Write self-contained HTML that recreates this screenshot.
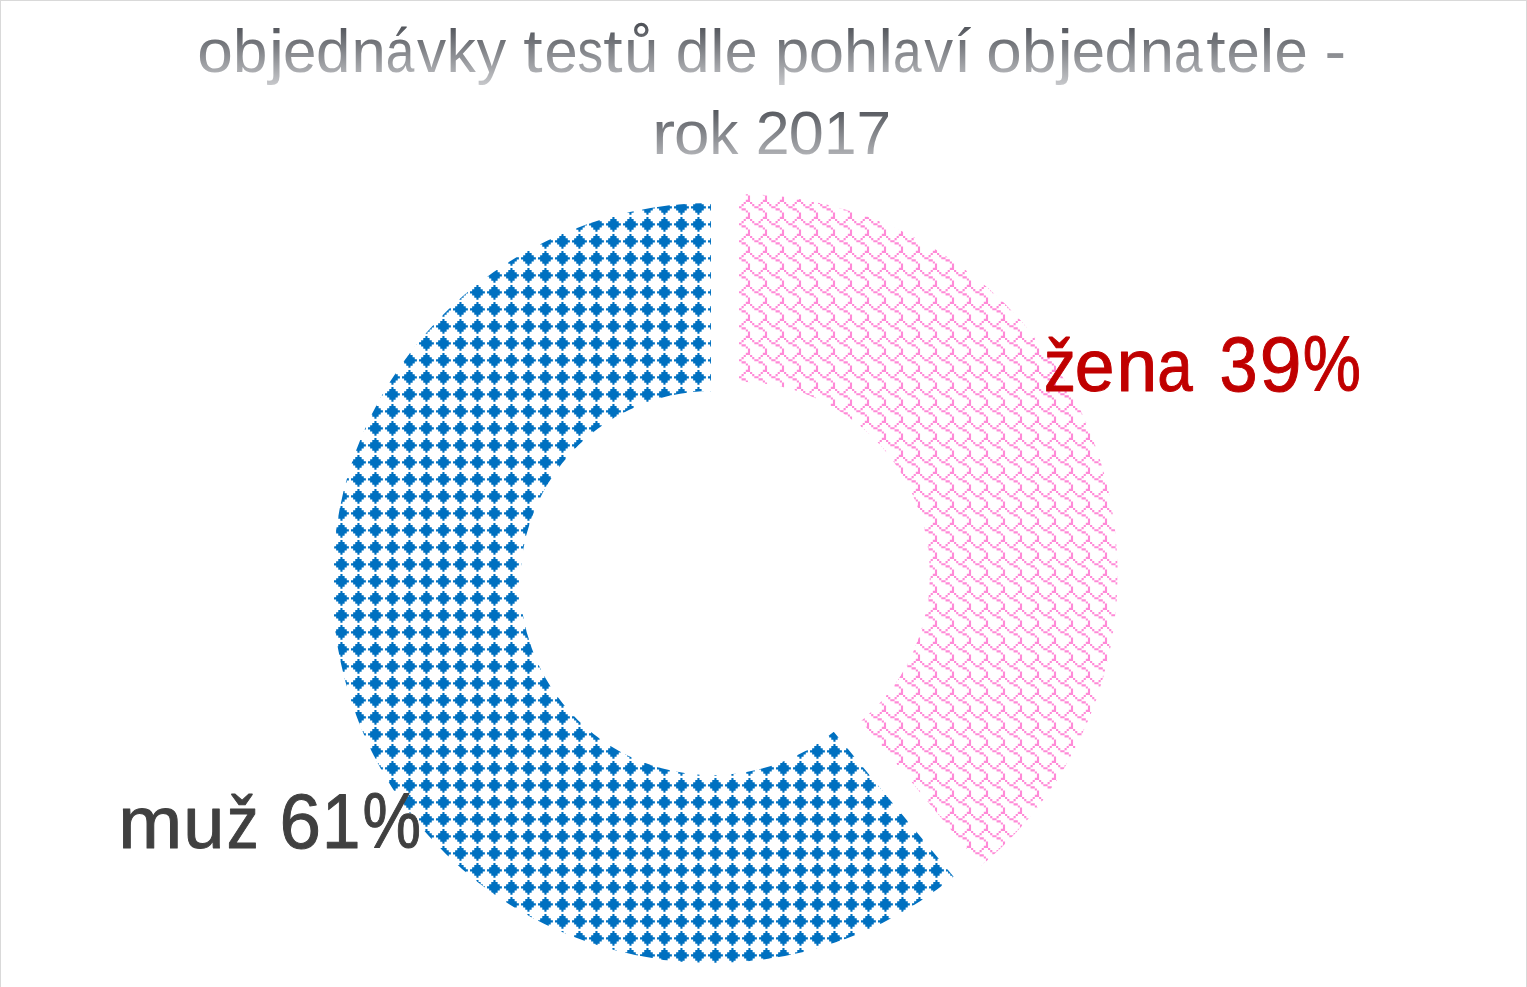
<!DOCTYPE html>
<html lang="cs">
<head>
<meta charset="utf-8">
<title>objednávky testů dle pohlaví objednatele - rok 2017</title>
<style>
html,body{margin:0;padding:0;background:#fff;}
body{width:1527px;height:987px;overflow:hidden;}
svg{display:block;}
text{font-family:"Liberation Sans",sans-serif;}
</style>
</head>
<body>
<svg width="1527" height="987" viewBox="0 0 1527 987">
<defs>
<pattern id="diamond" x="0" y="0" width="17" height="17" patternUnits="userSpaceOnUse">
<g fill="#0070C0"><path transform="translate(-5.987 -4.037)" d="M6.375 0L8.5 0L8.5 2.125L10.625 2.125L10.625 4.25L12.75 4.25L12.75 6.375L14.875 6.375L14.875 8.5L12.75 8.5L12.75 10.625L10.625 10.625L10.625 12.75L8.5 12.75L8.5 14.875L6.375 14.875L6.375 12.75L4.25 12.75L4.25 10.625L2.125 10.625L2.125 8.5L0 8.5L0 6.375L2.125 6.375L2.125 4.25L4.25 4.25L4.25 2.125L6.375 2.125Z"/><path transform="translate(11.013 -4.037)" d="M6.375 0L8.5 0L8.5 2.125L10.625 2.125L10.625 4.25L12.75 4.25L12.75 6.375L14.875 6.375L14.875 8.5L12.75 8.5L12.75 10.625L10.625 10.625L10.625 12.75L8.5 12.75L8.5 14.875L6.375 14.875L6.375 12.75L4.25 12.75L4.25 10.625L2.125 10.625L2.125 8.5L0 8.5L0 6.375L2.125 6.375L2.125 4.25L4.25 4.25L4.25 2.125L6.375 2.125Z"/><path transform="translate(28.013 -4.037)" d="M6.375 0L8.5 0L8.5 2.125L10.625 2.125L10.625 4.25L12.75 4.25L12.75 6.375L14.875 6.375L14.875 8.5L12.75 8.5L12.75 10.625L10.625 10.625L10.625 12.75L8.5 12.75L8.5 14.875L6.375 14.875L6.375 12.75L4.25 12.75L4.25 10.625L2.125 10.625L2.125 8.5L0 8.5L0 6.375L2.125 6.375L2.125 4.25L4.25 4.25L4.25 2.125L6.375 2.125Z"/><path transform="translate(-5.987 12.963)" d="M6.375 0L8.5 0L8.5 2.125L10.625 2.125L10.625 4.25L12.75 4.25L12.75 6.375L14.875 6.375L14.875 8.5L12.75 8.5L12.75 10.625L10.625 10.625L10.625 12.75L8.5 12.75L8.5 14.875L6.375 14.875L6.375 12.75L4.25 12.75L4.25 10.625L2.125 10.625L2.125 8.5L0 8.5L0 6.375L2.125 6.375L2.125 4.25L4.25 4.25L4.25 2.125L6.375 2.125Z"/><path transform="translate(11.013 12.963)" d="M6.375 0L8.5 0L8.5 2.125L10.625 2.125L10.625 4.25L12.75 4.25L12.75 6.375L14.875 6.375L14.875 8.5L12.75 8.5L12.75 10.625L10.625 10.625L10.625 12.75L8.5 12.75L8.5 14.875L6.375 14.875L6.375 12.75L4.25 12.75L4.25 10.625L2.125 10.625L2.125 8.5L0 8.5L0 6.375L2.125 6.375L2.125 4.25L4.25 4.25L4.25 2.125L6.375 2.125Z"/><path transform="translate(28.013 12.963)" d="M6.375 0L8.5 0L8.5 2.125L10.625 2.125L10.625 4.25L12.75 4.25L12.75 6.375L14.875 6.375L14.875 8.5L12.75 8.5L12.75 10.625L10.625 10.625L10.625 12.75L8.5 12.75L8.5 14.875L6.375 14.875L6.375 12.75L4.25 12.75L4.25 10.625L2.125 10.625L2.125 8.5L0 8.5L0 6.375L2.125 6.375L2.125 4.25L4.25 4.25L4.25 2.125L6.375 2.125Z"/><path transform="translate(-5.987 29.963)" d="M6.375 0L8.5 0L8.5 2.125L10.625 2.125L10.625 4.25L12.75 4.25L12.75 6.375L14.875 6.375L14.875 8.5L12.75 8.5L12.75 10.625L10.625 10.625L10.625 12.75L8.5 12.75L8.5 14.875L6.375 14.875L6.375 12.75L4.25 12.75L4.25 10.625L2.125 10.625L2.125 8.5L0 8.5L0 6.375L2.125 6.375L2.125 4.25L4.25 4.25L4.25 2.125L6.375 2.125Z"/><path transform="translate(11.013 29.963)" d="M6.375 0L8.5 0L8.5 2.125L10.625 2.125L10.625 4.25L12.75 4.25L12.75 6.375L14.875 6.375L14.875 8.5L12.75 8.5L12.75 10.625L10.625 10.625L10.625 12.75L8.5 12.75L8.5 14.875L6.375 14.875L6.375 12.75L4.25 12.75L4.25 10.625L2.125 10.625L2.125 8.5L0 8.5L0 6.375L2.125 6.375L2.125 4.25L4.25 4.25L4.25 2.125L6.375 2.125Z"/><path transform="translate(28.013 29.963)" d="M6.375 0L8.5 0L8.5 2.125L10.625 2.125L10.625 4.25L12.75 4.25L12.75 6.375L14.875 6.375L14.875 8.5L12.75 8.5L12.75 10.625L10.625 10.625L10.625 12.75L8.5 12.75L8.5 14.875L6.375 14.875L6.375 12.75L4.25 12.75L4.25 10.625L2.125 10.625L2.125 8.5L0 8.5L0 6.375L2.125 6.375L2.125 4.25L4.25 4.25L4.25 2.125L6.375 2.125Z"/></g>
</pattern>
<pattern id="shingle" x="0" y="0" width="17" height="17" patternUnits="userSpaceOnUse">
<g fill="#FF8AD7"><path transform="translate(-14.938 -4.162)" d="M14.875 -4.25L17 -4.25L17 2.125L12.75 2.125L12.75 0L14.875 0ZM0 2.125L2.125 2.125L2.125 4.25L0 4.25ZM10.625 2.125L12.75 2.125L12.75 4.25L10.625 4.25ZM2.125 4.25L4.25 4.25L4.25 6.375L2.125 6.375ZM8.5 4.25L10.625 4.25L10.625 6.375L8.5 6.375ZM4.25 6.375L8.5 6.375L8.5 8.5L4.25 8.5ZM8.5 8.5L12.75 8.5L12.75 10.625L8.5 10.625ZM12.75 10.625L14.875 10.625L14.875 12.75L12.75 12.75Z"/><path transform="translate(2.062 -4.162)" d="M14.875 -4.25L17 -4.25L17 2.125L12.75 2.125L12.75 0L14.875 0ZM0 2.125L2.125 2.125L2.125 4.25L0 4.25ZM10.625 2.125L12.75 2.125L12.75 4.25L10.625 4.25ZM2.125 4.25L4.25 4.25L4.25 6.375L2.125 6.375ZM8.5 4.25L10.625 4.25L10.625 6.375L8.5 6.375ZM4.25 6.375L8.5 6.375L8.5 8.5L4.25 8.5ZM8.5 8.5L12.75 8.5L12.75 10.625L8.5 10.625ZM12.75 10.625L14.875 10.625L14.875 12.75L12.75 12.75Z"/><path transform="translate(19.062 -4.162)" d="M14.875 -4.25L17 -4.25L17 2.125L12.75 2.125L12.75 0L14.875 0ZM0 2.125L2.125 2.125L2.125 4.25L0 4.25ZM10.625 2.125L12.75 2.125L12.75 4.25L10.625 4.25ZM2.125 4.25L4.25 4.25L4.25 6.375L2.125 6.375ZM8.5 4.25L10.625 4.25L10.625 6.375L8.5 6.375ZM4.25 6.375L8.5 6.375L8.5 8.5L4.25 8.5ZM8.5 8.5L12.75 8.5L12.75 10.625L8.5 10.625ZM12.75 10.625L14.875 10.625L14.875 12.75L12.75 12.75Z"/><path transform="translate(-14.938 12.838)" d="M14.875 -4.25L17 -4.25L17 2.125L12.75 2.125L12.75 0L14.875 0ZM0 2.125L2.125 2.125L2.125 4.25L0 4.25ZM10.625 2.125L12.75 2.125L12.75 4.25L10.625 4.25ZM2.125 4.25L4.25 4.25L4.25 6.375L2.125 6.375ZM8.5 4.25L10.625 4.25L10.625 6.375L8.5 6.375ZM4.25 6.375L8.5 6.375L8.5 8.5L4.25 8.5ZM8.5 8.5L12.75 8.5L12.75 10.625L8.5 10.625ZM12.75 10.625L14.875 10.625L14.875 12.75L12.75 12.75Z"/><path transform="translate(2.062 12.838)" d="M14.875 -4.25L17 -4.25L17 2.125L12.75 2.125L12.75 0L14.875 0ZM0 2.125L2.125 2.125L2.125 4.25L0 4.25ZM10.625 2.125L12.75 2.125L12.75 4.25L10.625 4.25ZM2.125 4.25L4.25 4.25L4.25 6.375L2.125 6.375ZM8.5 4.25L10.625 4.25L10.625 6.375L8.5 6.375ZM4.25 6.375L8.5 6.375L8.5 8.5L4.25 8.5ZM8.5 8.5L12.75 8.5L12.75 10.625L8.5 10.625ZM12.75 10.625L14.875 10.625L14.875 12.75L12.75 12.75Z"/><path transform="translate(19.062 12.838)" d="M14.875 -4.25L17 -4.25L17 2.125L12.75 2.125L12.75 0L14.875 0ZM0 2.125L2.125 2.125L2.125 4.25L0 4.25ZM10.625 2.125L12.75 2.125L12.75 4.25L10.625 4.25ZM2.125 4.25L4.25 4.25L4.25 6.375L2.125 6.375ZM8.5 4.25L10.625 4.25L10.625 6.375L8.5 6.375ZM4.25 6.375L8.5 6.375L8.5 8.5L4.25 8.5ZM8.5 8.5L12.75 8.5L12.75 10.625L8.5 10.625ZM12.75 10.625L14.875 10.625L14.875 12.75L12.75 12.75Z"/><path transform="translate(-14.938 29.838)" d="M14.875 -4.25L17 -4.25L17 2.125L12.75 2.125L12.75 0L14.875 0ZM0 2.125L2.125 2.125L2.125 4.25L0 4.25ZM10.625 2.125L12.75 2.125L12.75 4.25L10.625 4.25ZM2.125 4.25L4.25 4.25L4.25 6.375L2.125 6.375ZM8.5 4.25L10.625 4.25L10.625 6.375L8.5 6.375ZM4.25 6.375L8.5 6.375L8.5 8.5L4.25 8.5ZM8.5 8.5L12.75 8.5L12.75 10.625L8.5 10.625ZM12.75 10.625L14.875 10.625L14.875 12.75L12.75 12.75Z"/><path transform="translate(2.062 29.838)" d="M14.875 -4.25L17 -4.25L17 2.125L12.75 2.125L12.75 0L14.875 0ZM0 2.125L2.125 2.125L2.125 4.25L0 4.25ZM10.625 2.125L12.75 2.125L12.75 4.25L10.625 4.25ZM2.125 4.25L4.25 4.25L4.25 6.375L2.125 6.375ZM8.5 4.25L10.625 4.25L10.625 6.375L8.5 6.375ZM4.25 6.375L8.5 6.375L8.5 8.5L4.25 8.5ZM8.5 8.5L12.75 8.5L12.75 10.625L8.5 10.625ZM12.75 10.625L14.875 10.625L14.875 12.75L12.75 12.75Z"/><path transform="translate(19.062 29.838)" d="M14.875 -4.25L17 -4.25L17 2.125L12.75 2.125L12.75 0L14.875 0ZM0 2.125L2.125 2.125L2.125 4.25L0 4.25ZM10.625 2.125L12.75 2.125L12.75 4.25L10.625 4.25ZM2.125 4.25L4.25 4.25L4.25 6.375L2.125 6.375ZM8.5 4.25L10.625 4.25L10.625 6.375L8.5 6.375ZM4.25 6.375L8.5 6.375L8.5 8.5L4.25 8.5ZM8.5 8.5L12.75 8.5L12.75 10.625L8.5 10.625ZM12.75 10.625L14.875 10.625L14.875 12.75L12.75 12.75Z"/></g>
</pattern>
<linearGradient id="tg1" gradientUnits="userSpaceOnUse" x1="0" y1="25.2" x2="0" y2="84.7">
<stop offset="0" stop-color="#505359"/><stop offset="1" stop-color="#c6c7ca"/>
</linearGradient>
<linearGradient id="tg2" gradientUnits="userSpaceOnUse" x1="0" y1="107.1" x2="0" y2="166.6">
<stop offset="0" stop-color="#505359"/><stop offset="1" stop-color="#c6c7ca"/>
</linearGradient>
</defs>
<rect x="0" y="0" width="1527" height="987" fill="#ffffff"/>
<g id="frame" fill="#d9d9d9" shape-rendering="crispEdges"><rect x="0" y="0" width="1527" height="1"/><rect x="0" y="0" width="1" height="987"/><rect x="1526" y="0" width="1" height="987"/></g>
<g id="donut" stroke="#ffffff" stroke-width="2.8" stroke-linejoin="miter">
<path d="M955.52 876.87A381.40 381.40 0 1 1 712.40 201.60L712.40 392.30A190.70 190.70 0 1 0 833.96 729.93Z" fill="url(#diamond)"/>
<path d="M737.60 192.52A381.40 381.40 0 0 1 980.71 867.80L859.16 720.86A190.70 190.70 0 0 0 737.60 383.22Z" fill="url(#shingle)"/>
</g>
<g id="title">
<text y="72.20" font-size="60.4" fill="url(#tg1)"><tspan x="197.23" textLength="35.60" lengthAdjust="spacingAndGlyphs">o</tspan><tspan x="233.12" textLength="34.41" lengthAdjust="spacingAndGlyphs">b</tspan><tspan x="268.74" textLength="15.43" lengthAdjust="spacingAndGlyphs">j</tspan><tspan x="283.03" textLength="33.43" lengthAdjust="spacingAndGlyphs">e</tspan><tspan x="315.94" textLength="34.41" lengthAdjust="spacingAndGlyphs">d</tspan><tspan x="351.47" textLength="34.27" lengthAdjust="spacingAndGlyphs">n</tspan><tspan x="385.66" textLength="28.56" lengthAdjust="spacingAndGlyphs">á</tspan><tspan x="416.91" textLength="29.11" lengthAdjust="spacingAndGlyphs">v</tspan><tspan x="446.64" textLength="29.04" lengthAdjust="spacingAndGlyphs">k</tspan><tspan x="476.81" textLength="29.38" lengthAdjust="spacingAndGlyphs">y</tspan></text>
<text y="72.20" font-size="60.4" fill="url(#tg1)"><tspan x="523.26" textLength="19.31" lengthAdjust="spacingAndGlyphs">t</tspan><tspan x="544.41" textLength="33.17" lengthAdjust="spacingAndGlyphs">e</tspan><tspan x="577.58" textLength="25.67" lengthAdjust="spacingAndGlyphs">s</tspan><tspan x="603.35" textLength="19.31" lengthAdjust="spacingAndGlyphs">t</tspan><tspan x="624.35" textLength="34.11" lengthAdjust="spacingAndGlyphs">ů</tspan></text>
<text y="72.20" font-size="60.4" fill="url(#tg1)"><tspan x="675.67" textLength="33.77" lengthAdjust="spacingAndGlyphs">d</tspan><tspan x="710.37" textLength="14.25" lengthAdjust="spacingAndGlyphs">l</tspan><tspan x="724.85" textLength="32.81" lengthAdjust="spacingAndGlyphs">e</tspan></text>
<text y="72.20" font-size="60.4" fill="url(#tg1)"><tspan x="775.04" textLength="34.21" lengthAdjust="spacingAndGlyphs">p</tspan><tspan x="808.73" textLength="35.30" lengthAdjust="spacingAndGlyphs">o</tspan><tspan x="844.09" textLength="34.07" lengthAdjust="spacingAndGlyphs">h</tspan><tspan x="878.55" textLength="14.39" lengthAdjust="spacingAndGlyphs">l</tspan><tspan x="893.02" textLength="28.56" lengthAdjust="spacingAndGlyphs">a</tspan><tspan x="924.15" textLength="28.86" lengthAdjust="spacingAndGlyphs">v</tspan><tspan x="953.98" textLength="17.16" lengthAdjust="spacingAndGlyphs">í</tspan></text>
<text y="72.20" font-size="60.4" fill="url(#tg1)"><tspan x="986.24" textLength="35.46" lengthAdjust="spacingAndGlyphs">o</tspan><tspan x="1022.00" textLength="34.28" lengthAdjust="spacingAndGlyphs">b</tspan><tspan x="1057.43" textLength="15.43" lengthAdjust="spacingAndGlyphs">j</tspan><tspan x="1071.71" textLength="33.30" lengthAdjust="spacingAndGlyphs">e</tspan><tspan x="1104.50" textLength="34.28" lengthAdjust="spacingAndGlyphs">d</tspan><tspan x="1139.89" textLength="34.14" lengthAdjust="spacingAndGlyphs">n</tspan><tspan x="1173.89" textLength="28.56" lengthAdjust="spacingAndGlyphs">a</tspan><tspan x="1206.25" textLength="19.31" lengthAdjust="spacingAndGlyphs">t</tspan><tspan x="1226.38" textLength="33.30" lengthAdjust="spacingAndGlyphs">e</tspan><tspan x="1259.70" textLength="14.46" lengthAdjust="spacingAndGlyphs">l</tspan><tspan x="1274.39" textLength="33.30" lengthAdjust="spacingAndGlyphs">e</tspan></text>
<text y="72.20" font-size="60.4" fill="url(#tg1)"><tspan x="1324.48" textLength="21.59" lengthAdjust="spacingAndGlyphs">-</tspan></text>
<text y="154.10" font-size="60.4" fill="url(#tg2)"><tspan x="652.10" textLength="23.14" lengthAdjust="spacingAndGlyphs">r</tspan><tspan x="674.11" textLength="35.43" lengthAdjust="spacingAndGlyphs">o</tspan><tspan x="709.43" textLength="28.89" lengthAdjust="spacingAndGlyphs">k</tspan></text>
<text y="154.10" font-size="60.4" fill="url(#tg2)"><tspan x="755.81" textLength="33.83" lengthAdjust="spacingAndGlyphs">2</tspan><tspan x="788.75" textLength="35.03" lengthAdjust="spacingAndGlyphs">0</tspan><tspan x="824.34" textLength="32.16" lengthAdjust="spacingAndGlyphs">1</tspan><tspan x="856.58" textLength="34.63" lengthAdjust="spacingAndGlyphs">7</tspan></text>
</g>
<g id="labels">
<text y="390.90" font-size="75.0" fill="#c00000" stroke="#c00000" stroke-width="1.0" stroke-linejoin="round"><tspan x="1044.05" textLength="31.88" lengthAdjust="spacingAndGlyphs">ž</tspan><tspan x="1074.76" textLength="39.75" lengthAdjust="spacingAndGlyphs">e</tspan><tspan x="1116.55" textLength="40.70" lengthAdjust="spacingAndGlyphs">n</tspan><tspan x="1157.14" textLength="35.46" lengthAdjust="spacingAndGlyphs">a</tspan></text>
<text y="390.90" font-size="77.0" fill="#c00000" stroke="#c00000" stroke-width="1.0" stroke-linejoin="round"><tspan x="1219.55" textLength="38.04" lengthAdjust="spacingAndGlyphs">3</tspan><tspan x="1259.84" textLength="41.73" lengthAdjust="spacingAndGlyphs">9</tspan><tspan x="1302.82" textLength="58.20" lengthAdjust="spacingAndGlyphs">%</tspan></text>
<text y="847.90" font-size="75.0" fill="#404040" stroke="#404040" stroke-width="1.0" stroke-linejoin="round"><tspan x="118.21" textLength="64.04" lengthAdjust="spacingAndGlyphs">m</tspan><tspan x="183.30" textLength="41.10" lengthAdjust="spacingAndGlyphs">u</tspan><tspan x="226.66" textLength="31.88" lengthAdjust="spacingAndGlyphs">ž</tspan></text>
<text y="847.90" font-size="77.0" fill="#404040" stroke="#404040" stroke-width="1.0" stroke-linejoin="round"><tspan x="279.48" textLength="41.49" lengthAdjust="spacingAndGlyphs">6</tspan><tspan x="322.03" textLength="38.44" lengthAdjust="spacingAndGlyphs">1</tspan><tspan x="362.51" textLength="58.52" lengthAdjust="spacingAndGlyphs">%</tspan></text>
</g>
</svg>
</body>
</html>
